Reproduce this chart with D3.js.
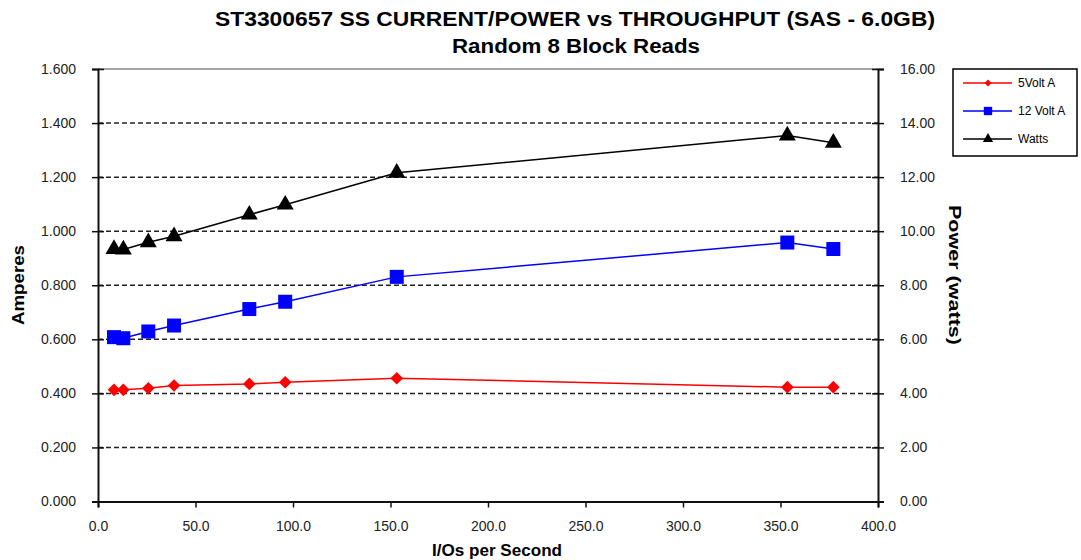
<!DOCTYPE html>
<html>
<head>
    <title>ST3300657 SS Current/Power vs Throughput</title>
    <script src="https://d3js.org/d3.v7.min.js"></script>
    <style>
        body { margin: 0; background: #fff; }
        svg { font-family: "Liberation Sans", Arial, sans-serif; }
        .axis-title { font-weight: bold; font-size: 17px; fill: #000; }
        .title { font-weight: bold; font-size: 20px; fill: #000; }
        .legend-text { font-size: 12px; fill: #000; }
    </style>
</head>
<body>
<svg width="1081" height="560"></svg>
<script>
    // data
    var iops = [8.2, 13.0, 25.8, 39.0, 77.6, 96.0, 153.2, 353.5, 377.1];
    var volt5 = [0.413, 0.413, 0.419, 0.429, 0.435, 0.441, 0.456, 0.423, 0.423];
    var volt12 = [0.608, 0.604, 0.629, 0.651, 0.712, 0.739, 0.831, 0.958, 0.934];
    var watts = [9.34, 9.32, 9.59, 9.81, 10.61, 10.98, 12.16, 13.54, 13.27];

    var xTicks = [0, 50, 100, 150, 200, 250, 300, 350, 400];
    var ampTicks = [0, 0.2, 0.4, 0.6, 0.8, 1.0, 1.2, 1.4, 1.6];
    var wattTicks = [0, 2, 4, 6, 8, 10, 12, 14, 16];

    var seriesNames = ["5Volt A", "12 Volt A", "Watts"];

    var svg = d3.select("svg");
    // note: "top" is taken by window.top, so use other names
    var plotLeft = 98, plotRight = 878, plotTop = 69, plotBottom = 501.5;

    var x = d3.scaleLinear().domain([0, 400]).range([plotLeft, plotRight]);
    var yA = d3.scaleLinear().domain([0, 1.6]).range([plotBottom, plotTop]);
    var yW = d3.scaleLinear().domain([0, 16]).range([plotBottom, plotTop]);

    // top border of plot area
    svg.append("line")
        .attr("x1", plotLeft).attr("x2", plotRight)
        .attr("y1", plotTop).attr("y2", plotTop)
        .attr("stroke", "#888").attr("stroke-width", 1.5);

    // dashed gridlines
    svg.append("g").selectAll("line")
        .data(ampTicks.filter(function(d) { return d > 0 && d < 1.6; }))
        .enter().append("line")
        .attr("x1", plotLeft).attr("x2", plotRight)
        .attr("y1", function(d) { return yA(d); })
        .attr("y2", function(d) { return yA(d); })
        .attr("stroke", "#222").attr("stroke-width", 1.5)
        .attr("stroke-dasharray", "5,3");

    // axes
    var axisX = d3.axisBottom(x).tickValues(xTicks).tickSize(6)
        .tickFormat(d3.format(".1f"));
    var gx = svg.append("g").attr("transform", "translate(0," + plotBottom + ")").call(axisX);
    gx.selectAll("text").attr("dy", "1.45em");

    var axisL = d3.axisLeft(yA).tickValues(ampTicks).tickSize(6)
        .tickFormat(d3.format(".3f"));
    var gl = svg.append("g").attr("transform", "translate(" + plotLeft + ",0)").call(axisL);
    gl.selectAll("text").attr("x", -22);

    var axisR = d3.axisRight(yW).tickValues(wattTicks).tickSize(6)
        .tickFormat(d3.format(".2f"));
    var gr = svg.append("g").attr("transform", "translate(" + plotRight + ",0)").call(axisR);
    gr.selectAll("text").attr("x", 22);

    [gx, gl, gr].forEach(function(g) {
        g.select(".domain").attr("stroke", "#111").attr("stroke-width", 2);
        g.selectAll(".tick line").attr("stroke", "#111").attr("stroke-width", 1.5);
        g.selectAll(".tick text")
            .attr("font-family", "Liberation Sans, Arial, sans-serif")
            .attr("font-size", 14).attr("fill", "#222");
    });
    // cross ticks on the value axes
    gl.selectAll(".tick line").attr("x1", 6);
    gr.selectAll(".tick line").attr("x1", -6);

    // series
    var pts = iops.map(function(d, i) {
        return { x: d, a5: volt5[i], a12: volt12[i], w: watts[i] };
    });

    // diamond = square turned by 45 degrees (wider than d3's own diamond)
    function drawSeries(key, scale, color, symbol, size, rot) {
        var line = d3.line()
            .x(function(d) { return x(d.x); })
            .y(function(d) { return scale(d[key]); });
        svg.append("path").datum(pts)
            .attr("d", line)
            .attr("fill", "none")
            .attr("stroke", color)
            .attr("stroke-width", 1.5);
        svg.append("g").selectAll("path")
            .data(pts).enter().append("path")
            .attr("d", d3.symbol().type(symbol).size(size))
            .attr("transform", function(d) {
                return "translate(" + x(d.x) + "," + scale(d[key]) + ") rotate(" + rot + ")";
            })
            .attr("fill", color);
    }

    drawSeries("a5", yA, "#ff0000", d3.symbolSquare, 80, 45);
    drawSeries("a12", yA, "#0000ff", d3.symbolSquare, 196, 0);
    drawSeries("w", yW, "#000000", d3.symbolTriangle, 125, 0);

    // titles
    svg.append("text").attr("class", "title")
        .attr("x", 575).attr("y", 26).attr("text-anchor", "middle")
        .attr("textLength", 720).attr("lengthAdjust", "spacingAndGlyphs")
        .text("ST3300657 SS CURRENT/POWER vs THROUGHPUT (SAS - 6.0GB)");
    svg.append("text").attr("class", "title")
        .attr("x", 576).attr("y", 53).attr("text-anchor", "middle")
        .attr("textLength", 248).attr("lengthAdjust", "spacingAndGlyphs")
        .text("Random 8 Block Reads");

    svg.append("text").attr("class", "axis-title")
        .attr("transform", "translate(24,285) rotate(-90)")
        .attr("text-anchor", "middle")
        .attr("textLength", 80).attr("lengthAdjust", "spacingAndGlyphs")
        .text("Amperes");
    svg.append("text").attr("class", "axis-title")
        .attr("transform", "translate(949,275) rotate(90)")
        .attr("text-anchor", "middle")
        .attr("textLength", 140).attr("lengthAdjust", "spacingAndGlyphs")
        .text("Power (watts)");
    svg.append("text").attr("class", "axis-title")
        .attr("x", 497).attr("y", 556).attr("text-anchor", "middle")
        .attr("textLength", 130).attr("lengthAdjust", "spacingAndGlyphs")
        .text("I/Os per Second");

    // legend
    var lg = svg.append("g");
    lg.append("rect")
        .attr("x", 953).attr("y", 69).attr("width", 124).attr("height", 87)
        .attr("fill", "#fff").attr("stroke", "#000").attr("stroke-width", 1.5);
    var legColors = ["#ff0000", "#0000ff", "#000000"];
    var legSymbols = [d3.symbolSquare, d3.symbolSquare, d3.symbolTriangle];
    var legSizes = [25, 70, 45];
    var legRot = [45, 0, 0];
    seriesNames.forEach(function(name, i) {
        var yy = 83 + i * 28;
        lg.append("line")
            .attr("x1", 963).attr("x2", 1012).attr("y1", yy).attr("y2", yy)
            .attr("stroke", legColors[i]).attr("stroke-width", 1.5);
        lg.append("path")
            .attr("d", d3.symbol().type(legSymbols[i]).size(legSizes[i]))
            .attr("transform", "translate(988," + yy + ") rotate(" + legRot[i] + ")")
            .attr("fill", legColors[i]);
        lg.append("text").attr("class", "legend-text")
            .attr("x", 1018).attr("y", yy + 4)
            .text(name);
    });
</script>
</body>
</html>
